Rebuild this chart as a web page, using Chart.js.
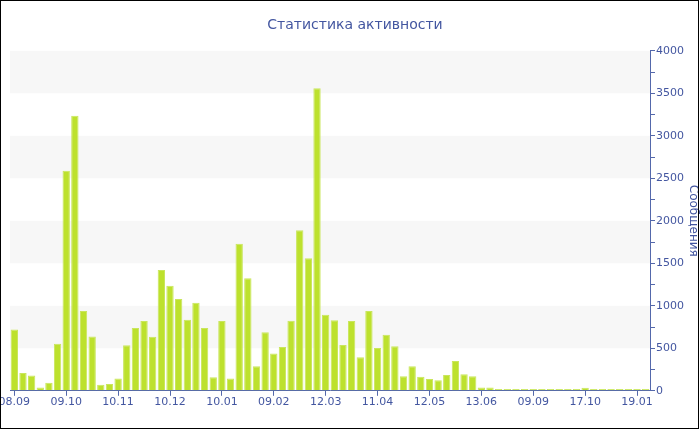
<!DOCTYPE html>
<html>
<head>
<meta charset="utf-8">
<script src="https://cdn.jsdelivr.net/npm/chart.js@4/dist/chart.umd.min.js"></script>
<style>
  html, body { margin: 0; padding: 0; background: #fff; }
  #wrap { width: 700px; height: 430px; position: relative; }
</style>
</head>
<body>
<div id="wrap"><canvas id="myChart" width="700" height="430"></canvas></div>
<script>
// Подписи оси X (каждый 6-й столбец)
var tickLabels = ['08.09', '09.10', '10.11', '10.12', '10.01', '09.02', '12.03',
                  '11.04', '12.05', '13.06', '09.09', '17.10', '19.01'];

// Количество сообщений по периодам
var messages = [
    720, 210, 180, 40, 95, 555, 2590, 3235, 940, 640,
    70, 80, 145, 535, 740, 820, 635, 1420, 1235, 1080,
    835, 1035, 740, 160, 820, 145, 1730, 1325, 290, 690,
    440, 515, 825, 1890, 1560, 3560, 895, 830, 540, 820,
    395, 940, 505, 660, 525, 170, 290, 165, 140, 125,
    185, 350, 195, 172, 40, 40, 20, 20, 20, 20,
    20, 20, 20, 20, 20, 20, 35, 20, 20, 20,
    20, 20, 20, 20
];

// категории: подпись только у каждого 6-го столбца
var categories = messages.map(function (v, i) {
    return i % 6 === 0 ? tickLabels[i / 6] : '';
});

var blue = '#4356a0';
var axisBlue = '#5468ab';

// полосы фона через 500
var bandsPlugin = {
    id: 'bands',
    beforeDatasetsDraw: function (chart) {
        var y = chart.scales.y, area = chart.chartArea, ctx = chart.ctx;
        ctx.save();
        ctx.fillStyle = '#f7f7f7';
        for (var v = 500; v < 4000; v += 1000) {
            var top = y.getPixelForValue(v + 500), bottom = y.getPixelForValue(v);
            ctx.fillRect(area.left, top, area.right - area.left, bottom - top);
        }
        ctx.restore();
    }
};

var framePlugin = {
    id: 'frame',
    beforeDraw: function (chart) {
        var ctx = chart.ctx;
        ctx.save();
        ctx.fillStyle = '#fff';
        ctx.fillRect(0, 0, chart.width, chart.height);
        ctx.restore();
    },
    afterDraw: function (chart) {
        var ctx = chart.ctx;
        ctx.save();
        ctx.strokeStyle = '#000';
        ctx.lineWidth = 1;
        ctx.strokeRect(0.5, 0.5, chart.width - 2, chart.height - 2);
        ctx.restore();
    }
};

var ctx = document.getElementById('myChart').getContext('2d');
var chart = new Chart(ctx, {
    type: 'bar',
    data: {
        labels: categories,
        datasets: [{
            label: 'Сообщения',
            data: messages,
            backgroundColor: '#bde12d',
            borderColor: '#c9e65c',
            borderWidth: 1,
            barPercentage: 0.85,
            categoryPercentage: 1.0
        }]
    },
    options: {
        responsive: false,
        animation: false,
        layout: { padding: { left: 10, right: 0, top: 0, bottom: 21 } },
        plugins: {
            legend: { display: false },
            tooltip: { enabled: false },
            title: {
                display: true,
                text: 'Статистика активности',
                color: blue,
                font: { family: 'DejaVu Sans', size: 14, weight: 'normal' },
                padding: { top: 17, bottom: 17 }
            }
        },
        scales: {
            x: {
                offset: true,
                border: { display: true, color: axisBlue, width: 1 },
                grid: {
                    offset: false,
                    drawOnChartArea: false,
                    drawTicks: true,
                    tickLength: 5,
                    color: function (c) {
                        return c.index % 6 === 0 ? axisBlue : 'rgba(0,0,0,0)';
                    }
                },
                ticks: {
                    autoSkip: false,
                    maxRotation: 0,
                    padding: 0,
                    color: blue,
                    font: { family: 'DejaVu Sans', size: 11 }
                },
                afterFit: function (scale) {
                    scale.paddingLeft = 0;
                    scale.paddingRight = 0;
                }
            },
            y: {
                position: 'right',
                min: 0,
                max: 4000,
                border: { display: true, color: axisBlue, width: 1 },
                grid: {
                    drawOnChartArea: false,
                    drawTicks: true,
                    tickLength: 5,
                    color: axisBlue
                },
                ticks: {
                    stepSize: 250,
                    padding: 1,
                    color: blue,
                    font: { family: 'DejaVu Sans', size: 11 },
                    callback: function (v) { return v % 500 === 0 ? v : ''; }
                },
                title: {
                    display: true,
                    text: 'Сообщения',
                    color: blue,
                    font: { family: 'DejaVu Sans', size: 12 },
                    padding: 0
                },
                afterFit: function (scale) {
                    scale.width = 50;
                }
            }
        }
    },
    plugins: [bandsPlugin, framePlugin]
});
</script>
</body>
</html>
